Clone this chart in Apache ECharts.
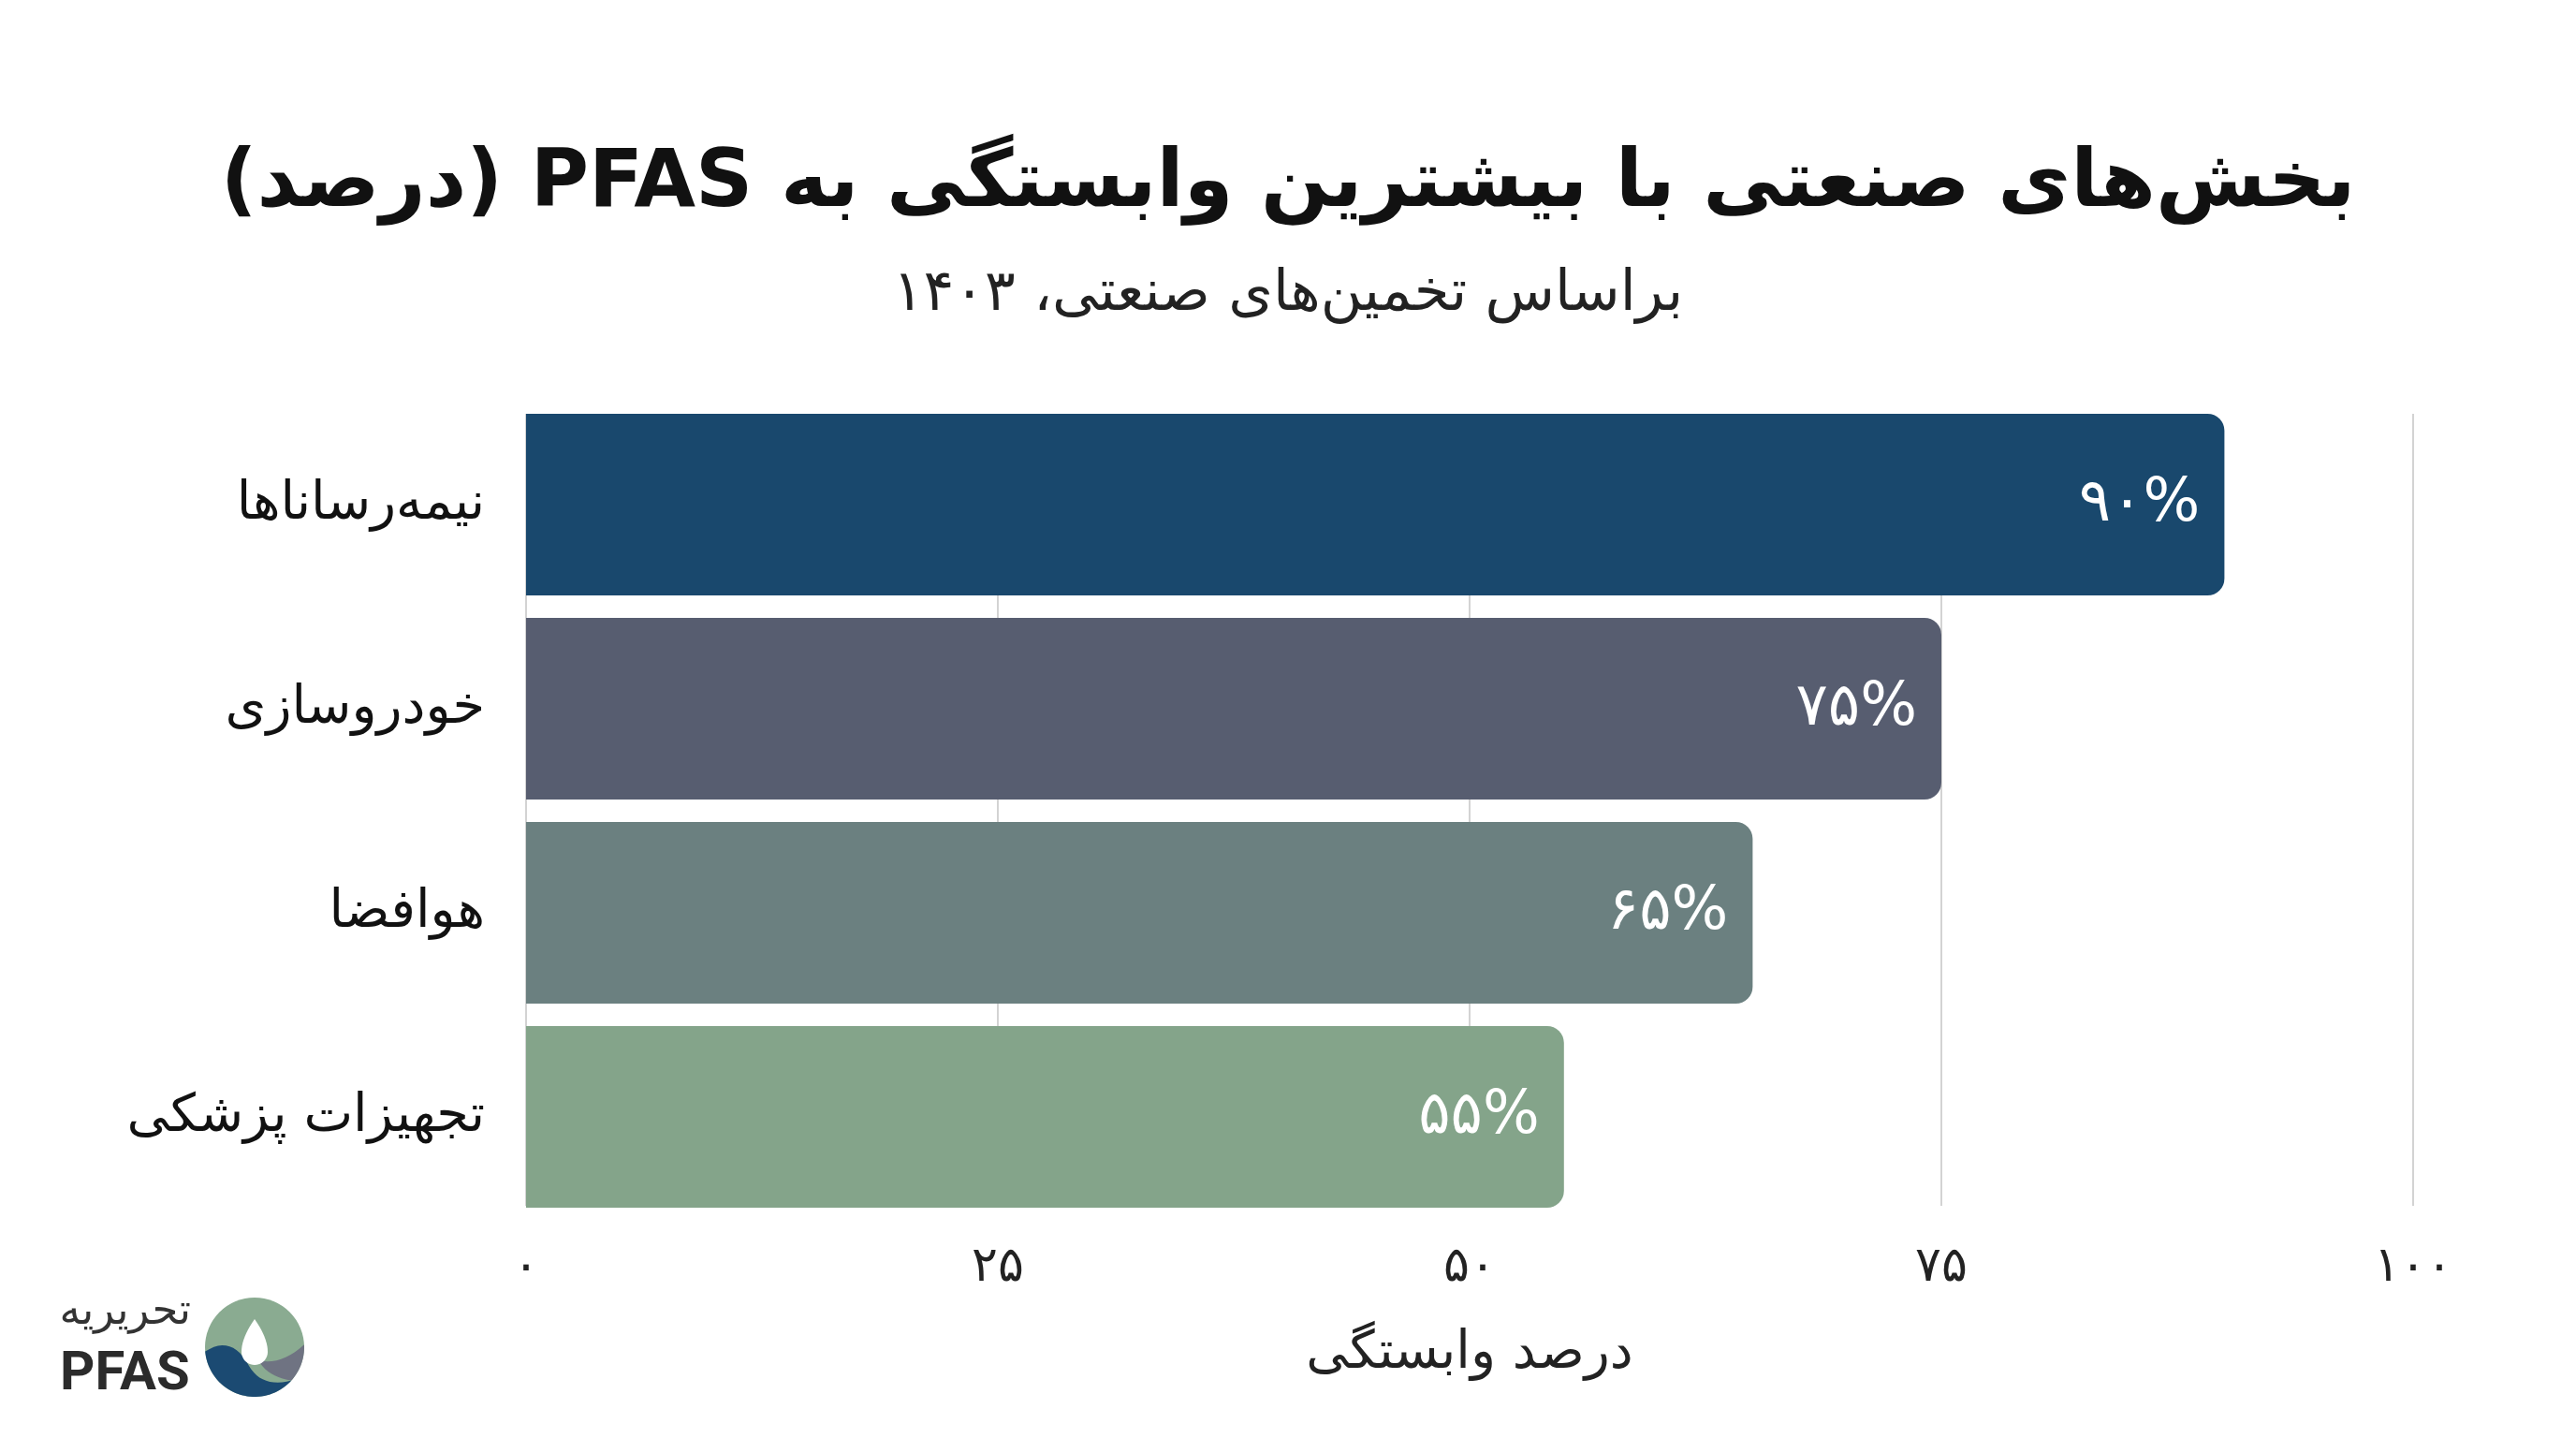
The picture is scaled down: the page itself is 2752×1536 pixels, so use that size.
<!DOCTYPE html>
<html lang="fa" dir="rtl">
<head>
<meta charset="utf-8">
<script src="https://cdn.jsdelivr.net/npm/echarts@6/dist/echarts.min.js"></script>
<style>
html,body{margin:0;padding:0;background:#fff;}
#chart{width:2752px;height:1536px;}
</style>
</head>
<body>
<div id="chart"></div>
<script>
const titleText = 'بخش‌های صنعتی با بیشترین وابستگی به PFAS (درصد)';
const subtitleText = 'براساس تخمین‌های صنعتی، ۱۴۰۳';
const categories = ['نیمه‌رساناها', 'خودروسازی', 'هوافضا', 'تجهیزات پزشکی'];
const values = [90, 75, 65, 55];
const barColors = ['#19486d', '#575d70', '#6b8080', '#84a48a'];
const xTickLabels = ['۰', '۲۵', '۵۰', '۷۵', '۱۰۰'];
const xAxisName = 'درصد وابستگی';
const logoTop = 'تحریریه';
const logoBottom = 'PFAS';

const FONT = '"DejaVu Sans", "Noto Sans", sans-serif';
const toFa = s => String(s).replace(/\d/g, d => '۰۱۲۳۴۵۶۷۸۹'[d]);

// logo outline helpers (decoration only)
function arcPts(r, a0, a1, n) {
  const p = [];
  for (let i = 0; i <= n; i++) {
    const a = (a0 + (a1 - a0) * i / n) * Math.PI / 180;
    p.push([r * Math.cos(a), r * Math.sin(a)]);
  }
  return p;
}
function quadPts(p0, c, p1, n) {
  const p = [];
  for (let i = 1; i < n; i++) {
    const t = i / n, u = 1 - t;
    p.push([u * u * p0[0] + 2 * u * t * c[0] + t * t * p1[0],
            u * u * p0[1] + 2 * u * t * c[1] + t * t * p1[1]]);
  }
  return p;
}
const R = 53;
const blueArc = arcPts(R, 175, 42, 40);
const bEnd = blueArc[blueArc.length - 1], bStart = blueArc[0];
const bluePts = blueArc
  .concat(quadPts(bEnd, [8, 44], [-6, 20], 12))
  .concat([[-6, 20]])
  .concat(quadPts([-6, 20], [-24, -14], bStart, 12));
const grayArc = arcPts(R, -3, 42, 20);
const gEnd = grayArc[grayArc.length - 1], gStart = grayArc[0];
const grayPts = grayArc
  .concat(quadPts(gEnd, [14, 32], [4, 14], 10))
  .concat([[4, 14]])
  .concat(quadPts([4, 14], [28, 20], gStart, 10));
const dropPts = [[0, -30]]
  .concat(quadPts([0, -30], [14, -10], [14, 5], 10))
  .concat(arcPts(14, 0, 180, 20).map(q => [q[0], q[1] + 5]))
  .concat(quadPts([-14, 5], [-14, -10], [0, -30], 10));

const chart = echarts.init(document.getElementById('chart'), null, {renderer: 'canvas'});
chart.setOption({
  backgroundColor: '#ffffff',
  textStyle: {fontFamily: FONT},
  title: [
    {text: titleText, left: 'center', top: 150,
     textStyle: {fontSize: 85, fontWeight: 'bold', color: '#111', fontFamily: FONT}},
    {text: subtitleText, left: 'center', top: 280,
     textStyle: {fontSize: 61, fontWeight: 'normal', color: '#222', fontFamily: FONT}}
  ],
  grid: [
    {left: 562, right: 174, top: 430, height: 872, containLabel: false},
    {left: 562, right: 174, top: 442, height: 846, containLabel: false}
  ],
  xAxis: [{
    gridIndex: 0, type: 'value', min: 0, max: 100, interval: 25,
    axisLine: {show: false}, axisTick: {show: false}, splitLine: {show: false},
    axisLabel: {fontSize: 52, color: '#222', margin: 26, fontFamily: FONT,
      formatter: v => xTickLabels[Math.round(v / 25)]},
    name: xAxisName, nameLocation: 'middle', nameGap: 116,
    nameTextStyle: {fontSize: 56, color: '#222', fontFamily: FONT}
  }, {
    gridIndex: 1, type: 'value', min: 0, max: 100, interval: 25,
    axisLine: {show: false}, axisTick: {show: false}, axisLabel: {show: false},
    splitLine: {show: true, lineStyle: {color: '#d3d3d3', width: 2}}
  }],
  yAxis: [{
    gridIndex: 0, type: 'category', inverse: true, data: categories,
    axisLine: {show: false}, axisTick: {show: false}, splitLine: {show: false},
    axisLabel: {fontSize: 56, color: '#111', margin: 44, fontFamily: FONT}
  }, {
    gridIndex: 1, type: 'value', min: 0, max: 1, show: false
  }],
  series: [{
    type: 'bar', xAxisIndex: 0, yAxisIndex: 0,
    barCategoryGap: '11%',
    data: values.map((v, i) => ({value: v, itemStyle: {color: barColors[i]}})),
    itemStyle: {borderRadius: [0, 18, 18, 0]},
    label: {show: true, position: 'insideRight', distance: 26, color: '#fff',
      fontSize: 64, fontFamily: FONT, formatter: p => toFa(p.value) + '%'}
  }],
  graphic: [
    {type: 'text', x: 204, y: 1380,
     style: {text: logoTop, fill: '#333', font: '45px ' + FONT, align: 'right', verticalAlign: 'top'}},
    {type: 'text', x: 64, y: 1440,
     style: {text: logoBottom, fill: '#2b2b2b', font: 'bold 58px Roboto, sans-serif', align: 'left', verticalAlign: 'top'}},
    {type: 'group', x: 272, y: 1439, children: [
      {type: 'circle', shape: {cx: 0, cy: 0, r: R}, style: {fill: '#8aab91'}},
      {type: 'polygon', shape: {points: grayPts}, style: {fill: '#6f7382'}},
      {type: 'polygon', shape: {points: bluePts}, style: {fill: '#1b4a72'}},
      {type: 'polygon', shape: {points: dropPts}, style: {fill: '#ffffff'}}
    ]}
  ]
});
</script>
</body>
</html>
